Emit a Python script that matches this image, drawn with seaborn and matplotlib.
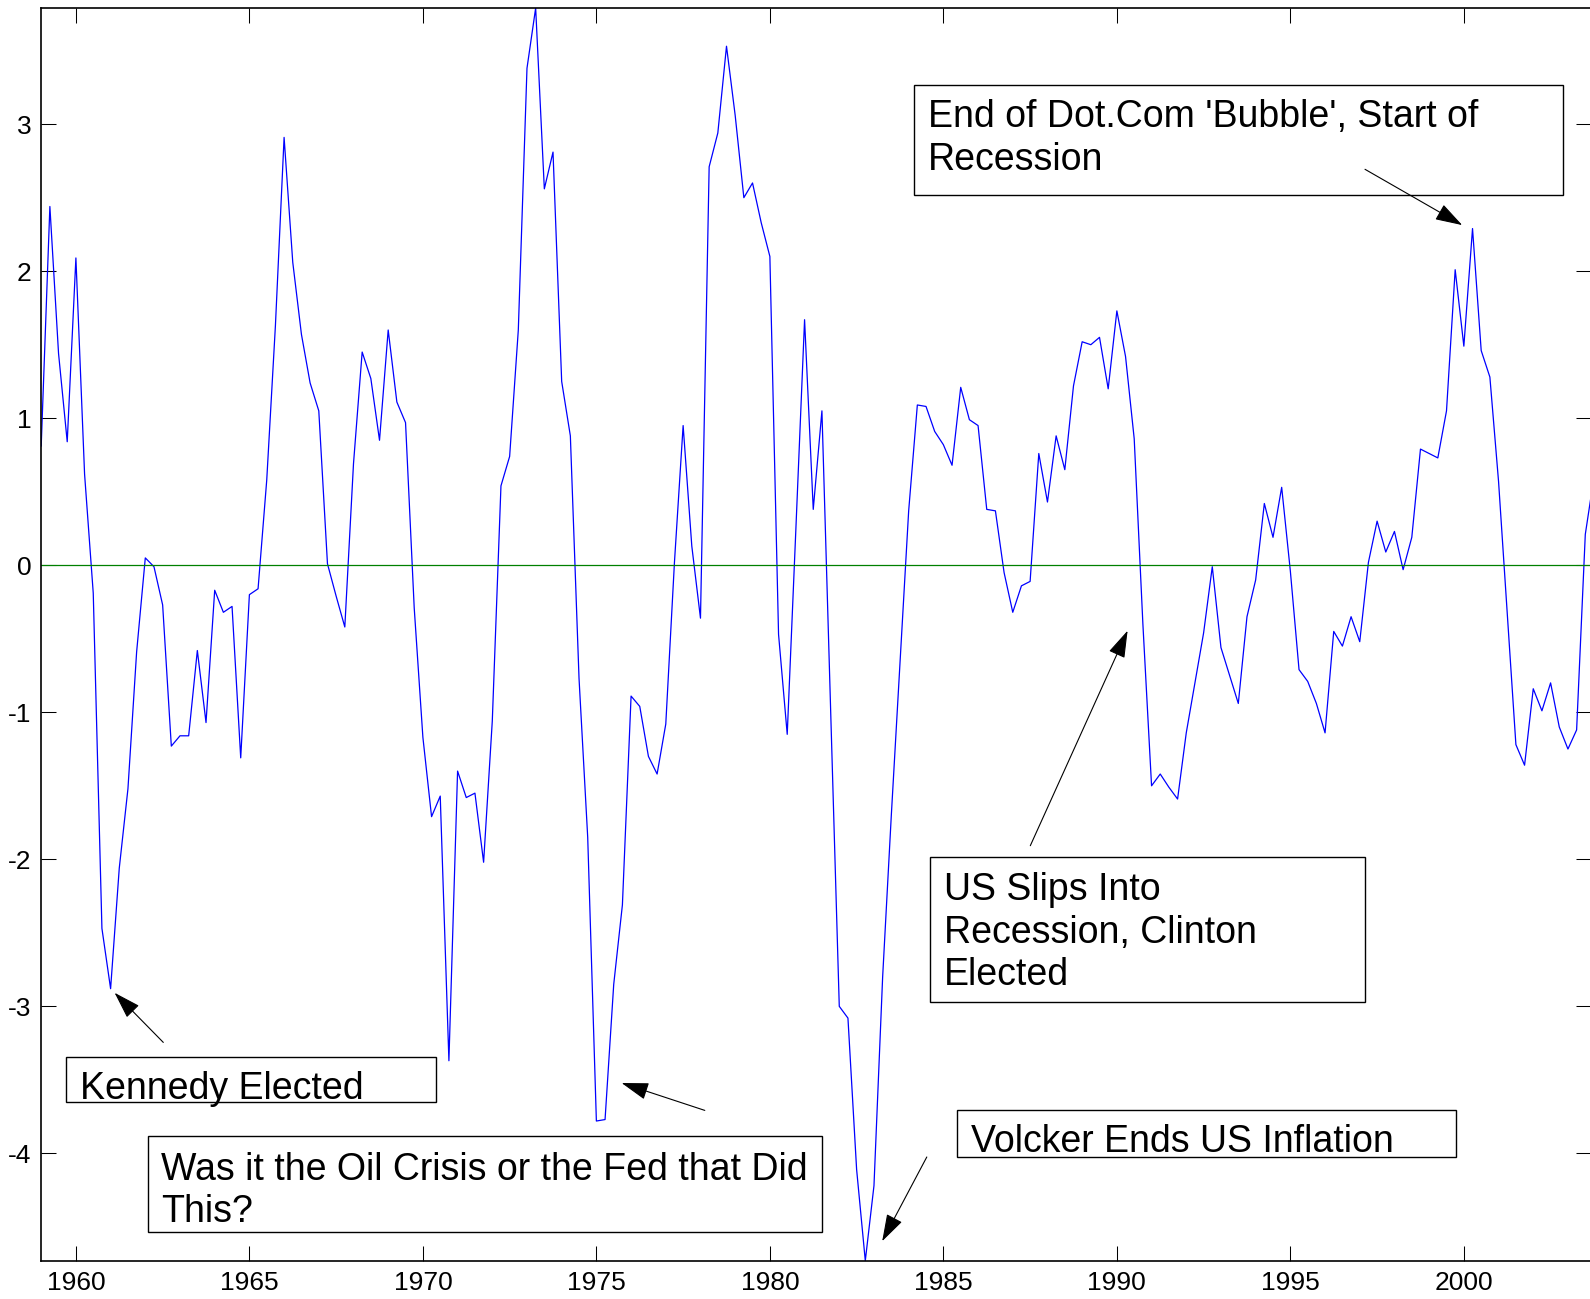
import numpy as np
import pandas as pd
import matplotlib
matplotlib.use("Agg")
import matplotlib.pyplot as plt
import seaborn as sns
from matplotlib.patches import Rectangle, FancyArrowPatch

# quarterly series, first quarter of 1959 onwards
start_year = 1959
gap_values = [
    0.81, 2.44, 1.44, 0.84,      # 1959
    2.09, 0.62, -0.19, -2.47,    # 1960
    -2.88, -2.06, -1.52, -0.59,  # 1961
    0.05, -0.01, -0.27, -1.23,   # 1962
    -1.16, -1.16, -0.58, -1.07,  # 1963
    -0.17, -0.32, -0.28, -1.31,  # 1964
    -0.20, -0.16, 0.58, 1.63,    # 1965
    2.91, 2.06, 1.57, 1.24,      # 1966
    1.05, 0.01, -0.21, -0.42,    # 1967
    0.69, 1.45, 1.27, 0.85,      # 1968
    1.60, 1.11, 0.97, -0.29,     # 1969
    -1.17, -1.71, -1.57, -3.37,  # 1970
    -1.40, -1.58, -1.55, -2.02,  # 1971
    -1.06, 0.54, 0.74, 1.60,     # 1972
    3.38, 3.79, 2.56, 2.81,      # 1973
    1.25, 0.88, -0.77, -1.85,    # 1974
    -3.78, -3.77, -2.85, -2.31,  # 1975
    -0.89, -0.96, -1.30, -1.42,  # 1976
    -1.08, 0.02, 0.95, 0.13,     # 1977
    -0.36, 2.71, 2.94, 3.53,     # 1978
    3.06, 2.50, 2.60, 2.33,      # 1979
    2.10, -0.47, -1.15, 0.25,    # 1980
    1.67, 0.38, 1.05, -0.98,     # 1981
    -3.00, -3.08, -4.11, -4.73,  # 1982
    -4.22, -2.80, -1.70, -0.67,  # 1983
    0.37, 1.09, 1.08, 0.91,      # 1984
    0.82, 0.68, 1.21, 0.99,      # 1985
    0.95, 0.38, 0.37, -0.05,     # 1986
    -0.32, -0.14, -0.11, 0.76,   # 1987
    0.43, 0.88, 0.65, 1.22,      # 1988
    1.52, 1.50, 1.55, 1.20,      # 1989
    1.73, 1.42, 0.86, -0.40,     # 1990
    -1.50, -1.42, -1.51, -1.59,  # 1991
    -1.14, -0.80, -0.46, -0.01,  # 1992
    -0.56, -0.75, -0.94, -0.35,  # 1993
    -0.10, 0.42, 0.19, 0.53,     # 1994
    -0.04, -0.71, -0.79, -0.94,  # 1995
    -1.14, -0.45, -0.55, -0.35,  # 1996
    -0.52, 0.02, 0.30, 0.09,     # 1997
    0.23, -0.03, 0.19, 0.79,     # 1998
    0.76, 0.73, 1.05, 2.01,      # 1999
    1.49, 2.29, 1.46, 1.28,      # 2000
    0.57, -0.33, -1.22, -1.36,   # 2001
    -0.84, -0.99, -0.80, -1.10,  # 2002
    -1.25, -1.12, 0.21, 0.60,    # 2003
]
year_ticks = [1960, 1965, 1970, 1975, 1980, 1985, 1990, 1995, 2000]
gap_ticks = [-4, -3, -2, -1, 0, 1, 2, 3]

df = pd.DataFrame({
    "date": start_year + np.arange(len(gap_values)) / 4,
    "gap": gap_values,
})

sns.set_style("ticks", {"xtick.direction": "in", "ytick.direction": "in"})
plt.rcParams["font.family"] = ["Liberation Sans", "DejaVu Sans"]
plt.rcParams["axes.unicode_minus"] = False

W, H = 1590, 1299
fig = plt.figure(figsize=(W / 100, H / 100), dpi=100)
left, right, top, bottom = 41.2, 1590.5, 8.0, 1260.7
ax = fig.add_axes([left / W, 1 - bottom / H, (right - left) / W, (bottom - top) / H])

sns.lineplot(data=df, x="date", y="gap", color="#0000ff", lw=0.9, ax=ax)
ax.axhline(0, color="#008000", lw=0.9)

ax.set_xlim(start_year, 2003.65)
ax.set_ylim(df["gap"].min(), df["gap"].max())
ax.set_xticks(year_ticks)
ax.set_yticks(gap_ticks)
ax.set_xlabel("")
ax.set_ylabel("")
ax.tick_params(direction="in", length=10.8, width=0.75, top=True, right=True,
               labelsize=19, colors="black")
ax.tick_params(axis="x", pad=7.5)
ax.tick_params(axis="y", pad=7)
for sp in ax.spines.values():
    sp.set_visible(True)
    sp.set_linewidth(1.2)
    sp.set_color("black")


def fxy(px, py):
    return (px / W, 1 - py / H)


# annotation boxes: (x0, y0, x1, y1) in pixels, text anchor, text
notes = [
    ((913.6, 85.2, 1562.6, 194.7), (928, 99), "End of Dot.Com 'Bubble', Start of\nRecession"),
    ((929.9, 856.9, 1364.9, 1001.9), (944, 872), "US Slips Into\nRecession, Clinton\nElected"),
    ((957.2, 1110.4, 1456.1, 1157.0), (971.4, 1124.5), "Volcker Ends US Inflation"),
    ((65.9, 1056.6, 436.0, 1102.3), (80.5, 1071), "Kennedy Elected"),
    ((147.8, 1136.0, 822.2, 1231.7), (160.7, 1151.7), "Was it the Oil Crisis or the Fed that Did\nThis?"),
]
for (x0, y0, x1, y1), (tx, ty), s in notes:
    fig.add_artist(Rectangle(fxy(x0, y1), (x1 - x0) / W, (y1 - y0) / H,
                             transform=fig.transFigure, fill=False,
                             edgecolor="black", lw=1.0))
    fig.text(*fxy(tx, ty), s, fontsize=27, va="top", ha="left",
             linespacing=1.24, color="black")

arrows = [
    ((163.3, 1042.4), (114.6, 992.8)),
    ((704.8, 1110.4), (621.6, 1083.0)),
    ((926.8, 1157.0), (882.2, 1241.2)),
    ((1030.3, 845.7), (1127.6, 630.7)),
    ((1365.0, 169.3), (1462.2, 225.1)),
]
for a, b in arrows:
    fig.add_artist(FancyArrowPatch(fxy(*a), fxy(*b), transform=fig.transFigure,
                                   arrowstyle="-|>,head_length=0.85,head_width=0.27",
                                   mutation_scale=20, color="black", lw=0.8,
                                   shrinkA=0, shrinkB=0))

fig.savefig("out.png", dpi=100)
